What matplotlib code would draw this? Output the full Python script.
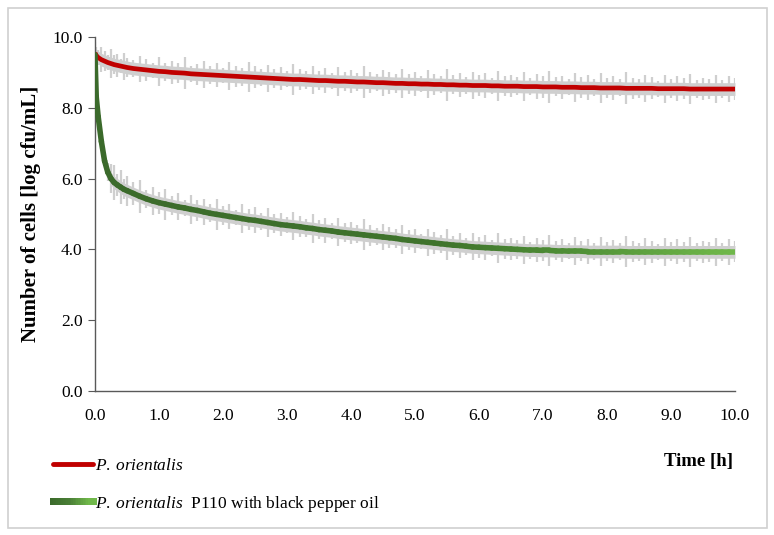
import numpy as np
import matplotlib
matplotlib.use("Agg")
import matplotlib.pyplot as plt
from matplotlib.collections import LineCollection
from matplotlib.legend_handler import HandlerBase
from matplotlib.colors import LinearSegmentedColormap
from matplotlib.lines import Line2D
from matplotlib.patches import Rectangle

# ---------------- data ----------------
time_h = [0.0, 0.02, 0.05, 0.1, 0.15, 0.2, 0.25, 0.3, 0.35, 0.4, 0.45, 0.5,
          0.6, 0.7, 0.8, 0.9, 1.0, 1.1, 1.2, 1.3, 1.4, 1.5,
          1.6, 1.7, 1.8, 1.9, 2.0, 2.1, 2.2, 2.3, 2.4, 2.5,
          2.6, 2.7, 2.8, 2.9, 3.0, 3.1, 3.2, 3.3, 3.4, 3.5,
          3.6, 3.7, 3.8, 3.9, 4.0, 4.1, 4.2, 4.3, 4.4, 4.5,
          4.6, 4.7, 4.8, 4.9, 5.0, 5.1, 5.2, 5.3, 5.4, 5.5,
          5.6, 5.7, 5.8, 5.9, 6.0, 6.1, 6.2, 6.3, 6.4, 6.5,
          6.6, 6.7, 6.8, 6.9, 7.0, 7.1, 7.2, 7.3, 7.4, 7.5,
          7.6, 7.7, 7.8, 7.9, 8.0, 8.1, 8.2, 8.3, 8.4, 8.5,
          8.6, 8.7, 8.8, 8.9, 9.0, 9.1, 9.2, 9.3, 9.4, 9.5,
          9.6, 9.7, 9.8, 9.9, 10.0]

control = [9.55, 9.48, 9.42, 9.36, 9.32, 9.28, 9.25, 9.22, 9.20, 9.18, 9.16, 9.14,
           9.11, 9.09, 9.07, 9.05, 9.03, 9.02, 9.00, 8.99, 8.98, 8.96,
           8.95, 8.94, 8.93, 8.92, 8.91, 8.90, 8.89, 8.88, 8.87, 8.86,
           8.85, 8.84, 8.83, 8.82, 8.81, 8.80, 8.80, 8.79, 8.78, 8.77,
           8.77, 8.76, 8.75, 8.75, 8.74, 8.73, 8.73, 8.72, 8.71, 8.71,
           8.70, 8.69, 8.69, 8.68, 8.68, 8.67, 8.67, 8.66, 8.66, 8.65,
           8.65, 8.64, 8.64, 8.63, 8.63, 8.63, 8.62, 8.62, 8.61, 8.61,
           8.61, 8.60, 8.60, 8.60, 8.59, 8.59, 8.59, 8.58, 8.58, 8.58,
           8.57, 8.57, 8.57, 8.56, 8.56, 8.56, 8.56, 8.55, 8.55, 8.55,
           8.55, 8.55, 8.54, 8.54, 8.54, 8.54, 8.54, 8.53, 8.53, 8.53,
           8.53, 8.53, 8.53, 8.53, 8.53]

control_err = [0.30, 0.25, 0.20, 0.35, 0.28, 0.22, 0.40, 0.26, 0.33, 0.21, 0.38, 0.27,
               0.24, 0.36, 0.30, 0.22, 0.41, 0.25, 0.32, 0.28, 0.45, 0.23,
               0.30, 0.37, 0.26, 0.34, 0.21, 0.40, 0.29, 0.25, 0.43, 0.31,
               0.24, 0.38, 0.27, 0.33, 0.22, 0.44, 0.30, 0.26, 0.39, 0.28,
               0.35, 0.23, 0.41, 0.27, 0.32, 0.25, 0.46, 0.29, 0.24, 0.37,
               0.31, 0.26, 0.42, 0.28, 0.34, 0.22, 0.40, 0.30, 0.25, 0.45,
               0.27, 0.33, 0.24, 0.39, 0.29, 0.36, 0.23, 0.43, 0.28, 0.31,
               0.26, 0.40, 0.24, 0.35, 0.30, 0.44, 0.27, 0.32, 0.22, 0.41,
               0.29, 0.36, 0.25, 0.42, 0.28, 0.33, 0.24, 0.45, 0.30, 0.26,
               0.38, 0.31, 0.23, 0.40, 0.27, 0.35, 0.29, 0.43, 0.25, 0.32,
               0.28, 0.39, 0.26, 0.36, 0.30]

treated = [9.50, 8.30, 7.75, 7.05, 6.50, 6.18, 6.00, 5.89, 5.82, 5.76, 5.70, 5.66,
           5.58, 5.50, 5.43, 5.37, 5.32, 5.28, 5.24, 5.20, 5.17, 5.13,
           5.10, 5.06, 5.02, 4.99, 4.96, 4.93, 4.90, 4.87, 4.84, 4.82,
           4.79, 4.76, 4.73, 4.70, 4.68, 4.66, 4.64, 4.61, 4.59, 4.56,
           4.54, 4.52, 4.49, 4.47, 4.45, 4.43, 4.41, 4.39, 4.37, 4.35,
           4.33, 4.31, 4.28, 4.26, 4.24, 4.22, 4.20, 4.18, 4.16, 4.14,
           4.12, 4.11, 4.09, 4.07, 4.06, 4.05, 4.04, 4.03, 4.02, 4.01,
           4.00, 3.99, 3.98, 3.98, 3.97, 3.97, 3.96, 3.96, 3.95, 3.95,
           3.95, 3.94, 3.94, 3.94, 3.94, 3.94, 3.94, 3.93, 3.93, 3.93,
           3.93, 3.93, 3.93, 3.93, 3.93, 3.93, 3.93, 3.93, 3.93, 3.93,
           3.93, 3.93, 3.93, 3.93, 3.93]

treated_err = [0.00, 0.00, 0.00, 0.05, 0.10, 0.25, 0.40, 0.50, 0.30, 0.48, 0.28, 0.42,
               0.33, 0.47, 0.26, 0.40, 0.31, 0.44, 0.27, 0.38, 0.22, 0.41,
               0.30, 0.36, 0.25, 0.43, 0.28, 0.34, 0.21, 0.40, 0.29, 0.37,
               0.24, 0.42, 0.27, 0.33, 0.23, 0.39, 0.30, 0.26, 0.41, 0.28,
               0.35, 0.22, 0.40, 0.27, 0.31, 0.25, 0.44, 0.29, 0.24, 0.36,
               0.30, 0.26, 0.41, 0.28, 0.33, 0.22, 0.39, 0.30, 0.25, 0.43,
               0.27, 0.34, 0.24, 0.38, 0.29, 0.36, 0.23, 0.42, 0.28, 0.31,
               0.26, 0.40, 0.24, 0.35, 0.30, 0.43, 0.27, 0.32, 0.22, 0.40,
               0.29, 0.36, 0.25, 0.41, 0.28, 0.33, 0.24, 0.44, 0.30, 0.26,
               0.38, 0.31, 0.23, 0.40, 0.27, 0.35, 0.29, 0.42, 0.25, 0.32,
               0.28, 0.39, 0.26, 0.36, 0.30]

core_band = 0.18   # dense part of the grey error band

y_ticks = [0.0, 2.0, 4.0, 6.0, 8.0, 10.0]
x_ticks = [0.0, 1.0, 2.0, 3.0, 4.0, 5.0, 6.0, 7.0, 8.0, 9.0, 10.0]
label_control = r"$\mathit{P.\:orientalis}$"
label_treated = r"$\mathit{P.\:orientalis}$  P110 with black pepper oil"
y_label = "Number of cells [log cfu/mL]"
x_label = "Time [h]"

# ---------------- style ----------------
plt.rcParams['font.family'] = ['Liberation Serif', 'DejaVu Serif']
plt.rcParams['mathtext.fontset'] = 'custom'
plt.rcParams['mathtext.rm'] = 'Liberation Serif'
plt.rcParams['mathtext.it'] = 'Liberation Serif:italic'

red = '#c00000'
green_cmap = LinearSegmentedColormap.from_list(
    'g', [(0.0, '#3b6a2b'), (0.55, '#3f742c'), (0.75, '#4f8f36'), (1.0, '#70b84a')])
axis_col = '#595959'
err_col = '#cfcfcf'

t = np.array(time_h)
c = np.array(control)
ce = np.array(control_err)
g = np.array(treated)
ge = np.array(treated_err)

fig = plt.figure(figsize=(7.74, 5.35), dpi=100)
ax = fig.add_axes([0.1227, 0.2692, 0.8269, 0.6616])

# figure border
fig.patches.append(Rectangle((0.0105, 0.013), 0.980, 0.972, transform=fig.transFigure,
                             fill=False, edgecolor='#d0d0d0', linewidth=1.2))

# grey error band
ax.fill_between(t, c - core_band, c + core_band, color=err_col, lw=0, zorder=1)
ax.fill_between(t[6:], g[6:] - core_band, g[6:] + core_band, color=err_col, lw=0, zorder=1)
ax.errorbar(t, c, yerr=ce, fmt='none', ecolor=err_col, elinewidth=1.6, capsize=0, zorder=2)
ax.errorbar(t, g, yerr=ge, fmt='none', ecolor=err_col, elinewidth=1.6, capsize=0, zorder=2)

# control line
ax.plot(t, c, color=red, lw=3.4, solid_capstyle='butt', zorder=4)

# treated line with gradient
pts = np.column_stack([t, g]).reshape(-1, 1, 2)
segs = np.concatenate([pts[:-1], pts[1:]], axis=1)
mid_t = (t[:-1] + t[1:]) / 2 / 10.0
lc = LineCollection(segs, colors=green_cmap(mid_t), linewidths=4.0, capstyle='round', zorder=5)
ax.add_collection(lc)

ax.set_xlim(0, 10)
ax.set_ylim(0, 10)
ax.set_xticks(x_ticks)
ax.set_xticklabels([f"{v:.1f}" for v in x_ticks])
ax.set_yticks(y_ticks)
ax.set_yticklabels([f"{v:.1f}" for v in y_ticks])
for s in ['top', 'right']:
    ax.spines[s].set_visible(False)
for s in ['left', 'bottom']:
    ax.spines[s].set_color(axis_col)
    ax.spines[s].set_linewidth(1.0)
ax.tick_params(axis='y', direction='out', length=5, color=axis_col, labelsize=12.5, pad=4)
ax.tick_params(axis='x', length=0, labelsize=12.5, pad=12)

ax.set_ylabel(y_label, fontsize=15, fontweight='bold', labelpad=8)
fig.text(0.947, 0.137, x_label, fontsize=13.5, fontweight='bold', ha='right', va='center')


class GradientHandler(HandlerBase):
    def create_artists(self, legend, orig_handle, xdescent, ydescent, width, height,
                       fontsize, trans):
        n = 24
        xs = np.linspace(-xdescent, width - xdescent, n + 1)
        y = height / 2 - ydescent
        sg = [[(xs[i], y), (xs[i + 1], y)] for i in range(n)]
        cols = LinearSegmentedColormap.from_list(
            'lg', ['#3b6a2b', '#4a7f36', '#70b84a'])(np.linspace(0, 1, n))
        coll = LineCollection(sg, colors=cols, linewidths=3.8, transform=trans,
                              antialiaseds=False, capstyle='projecting')
        return [coll]


h_red = Line2D([], [], color=red, lw=3.5, solid_capstyle='round')
leg = fig.legend([h_red, lc], [label_control, label_treated],
                 handler_map={LineCollection: GradientHandler()},
                 loc='upper left', bbox_to_anchor=(0.068, 0.145), frameon=False,
                 fontsize=12.5, handlelength=2.3, handletextpad=0.15, labelspacing=1.15,
                 borderpad=0, borderaxespad=0)

fig.savefig('out.png', dpi=100)
